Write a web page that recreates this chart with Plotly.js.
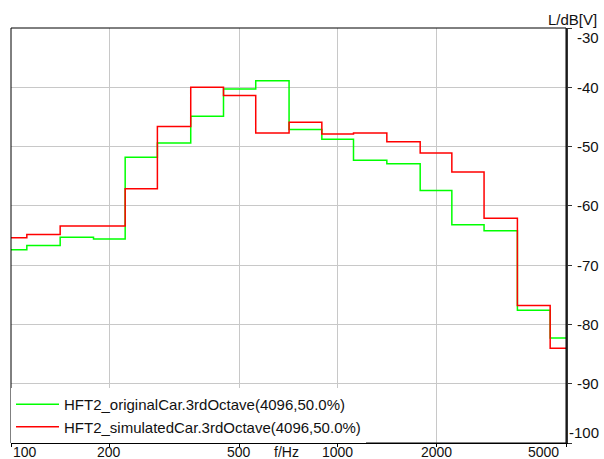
<!DOCTYPE html>
<html><head><meta charset="utf-8">
<script src="https://cdn.plot.ly/plotly-3.0.1.min.js"></script>
<style>html,body{margin:0;padding:0;background:#fff}</style>
</head><body><div id="chart" style="width:604px;height:459px"></div>
<script>
// 1/3-octave band centre frequencies (Hz)
const bands = [100,125,160,200,250,315,400,500,630,800,1000,1250,1600,2000,2500,3150,4000,5000];
// levels in dB[V]
const originalCar = [-67.4,-66.7,-65.3,-65.6,-51.8,-49.4,-44.9,-40.3,-38.9,-47.1,-48.75,-52.3,-52.9,-57.4,-63.2,-64.2,-77.6,-82.3];
const simulatedCar = [-65.4,-64.85,-63.4,-63.4,-57.1,-46.6,-40.0,-41.4,-47.7,-45.9,-47.9,-47.7,-49.2,-51.1,-54.3,-62.1,-76.8,-84.0];
const seriesNames = ['HFT2_originalCar.3rdOctave(4096,50.0%)','HFT2_simulatedCar.3rdOctave(4096,50.0%)'];
const xTicks = [100,200,500,1000,2000,5000];
const yTicks = [-30,-40,-50,-60,-70,-80,-90,-100];
const xTitle = 'f/Hz';
const yTitle = 'L/dB[V]';

const FONT = 'Liberation Sans, Arial, sans-serif';
const TXT = '#111';

const traces = [
  {x: bands, y: originalCar, name: seriesNames[0], type:'scatter', mode:'lines',
   line:{shape:'hvh', color:'#00ff00', width:1.5}},
  {x: bands, y: simulatedCar, name: seriesNames[1], type:'scatter', mode:'lines',
   line:{shape:'hvh', color:'#ff0000', width:1.5}}
];

const lastX = xTicks.length - 1;
const lastY = yTicks.length - 1;
const tf = {family:FONT, size:15, color:TXT};
const xf = {family:FONT, size:14, color:TXT};

const annotations = [
  {text: yTitle, xref:'paper', yref:'paper', x:1, y:1, xanchor:'right', yanchor:'middle', xshift:33, yshift:9, showarrow:false, font:tf},
  {text: xTitle, xref:'paper', yref:'paper', x:0.4955, y:0, xanchor:'center', yanchor:'middle', yshift:-9, showarrow:false, font:xf}
];
// y tick labels, right-aligned on the right axis (edge labels kept inside the axis span)
yTicks.forEach((v, i) => {
  annotations.push({text:String(v), xref:'paper', yref:'y', x:1, y:v,
    xanchor:'right', yanchor:'middle', xshift:35,
    yshift: i===0 ? -9 : (i===lastY ? 11 : 0),
    showarrow:false, font:tf});
});
// x tick labels placed on the log scale (edge labels kept inside the frame)
xTicks.forEach((v, i) => {
  annotations.push({text:String(v), xref:'x', yref:'paper', x:Math.log10(v), y:0,
    xanchor: i===0 ? 'left' : (i===lastX ? 'right' : 'center'),
    xshift: i===lastX ? -5 : 0,
    yanchor:'middle', yshift:-9, showarrow:false, font:xf});
});

const layout = {
  width:604, height:459,
  margin:{l:11, r:38, t:28, b:16},
  paper_bgcolor:'#fff', plot_bgcolor:'#fff',
  font:tf,
  showlegend:true,
  legend:{x:0, y:0, xanchor:'left', yanchor:'bottom', bgcolor:'#fff', borderwidth:0,
          itemwidth:43, font:tf, tracegroupgap:0},
  xaxis:{type:'log', range:[Math.log10(xTicks[0]), Math.log10(xTicks[lastX])],
         tickvals:xTicks, showticklabels:false,
         showgrid:true, gridcolor:'#c8c8c8', gridwidth:1,
         showline:true, linecolor:'#000', linewidth:1,
         ticks:'outside', ticklen:3, tickcolor:'#000', zeroline:false},
  yaxis:{side:'right', range:[yTicks[lastY], yTicks[0]],
         tickvals:yTicks, showticklabels:false,
         showgrid:true, gridcolor:'#c8c8c8', gridwidth:1,
         showline:true, linecolor:'#333', linewidth:2,
         ticks:'outside', ticklen:4, tickcolor:'#333', zeroline:false},
  shapes:[{type:'rect', xref:'paper', yref:'paper', x0:0, x1:1, y0:0, y1:1, line:{color:'#000', width:1}, layer:'above'}],
  annotations: annotations
};

Plotly.newPlot('chart', traces, layout, {displayModeBar:false, staticPlot:true});
</script></body></html>
